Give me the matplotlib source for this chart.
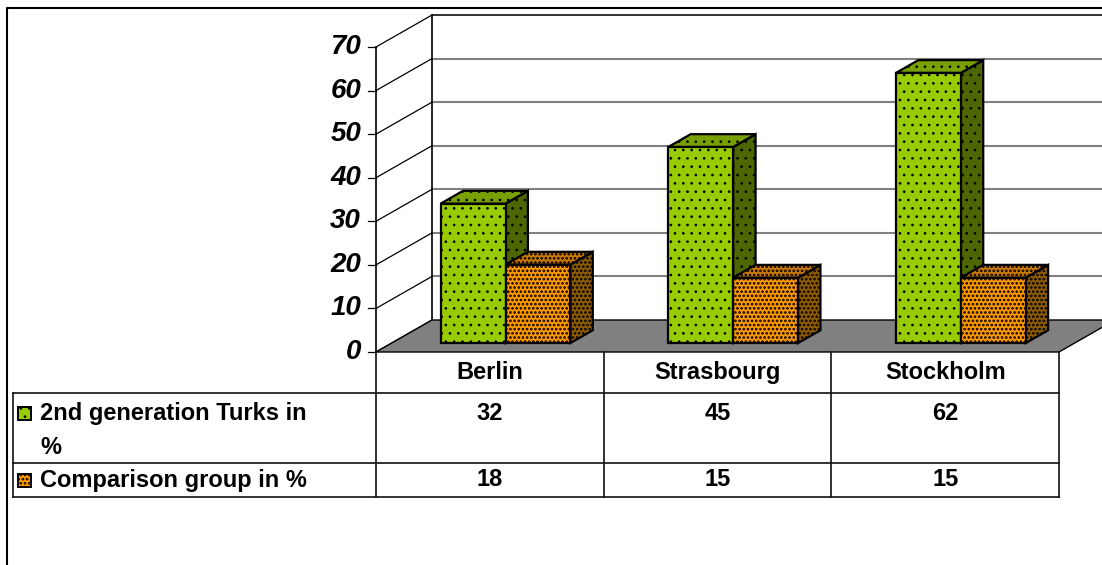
import matplotlib
matplotlib.use("Agg")
import matplotlib.pyplot as plt
from matplotlib.patches import Polygon, Rectangle
from matplotlib.lines import Line2D
from matplotlib.transforms import Affine2D

# ---- data -------------------------------------------------------------
cities = ["Berlin", "Strasbourg", "Stockholm"]
series_labels = ["2nd generation Turks in\n%", "Comparison group in %"]
turks = [32, 45, 62]
comparison = [18, 15, 15]
y_ticks = [0, 10, 20, 30, 40, 50, 60, 70]

# ---- style ------------------------------------------------------------
# (front, top, side) shades for each series
SHADES = [("#99CC00", "#78A000", "#4C6600"),
          ("#FF9900", "#CC7A00", "#8F5C00")]
HATCHES = ["..", "...."]
HATCH_LW = [0.7, 1.3]
FONT = "Liberation Sans"

W, H, DPI = 1102, 565, 100
fig = plt.figure(figsize=(W / DPI, H / DPI), dpi=DPI)

# layout of the plot box in pixels, measured from the top-left corner
X0, X1 = 376, 1059        # front edge of the floor
Y0, YTOP = 352, 47        # value 0 and top value on the front plane
DX, DY = 56, 32           # oblique offset of the back wall
YMAX = y_ticks[-1]

px_cat = (X1 - X0) / len(cities)
px_val = (Y0 - YTOP) / YMAX

ax = fig.add_axes([0, 0, 1, 1])
ax.set_xlim(-X0 / px_cat, (W - X0) / px_cat)
ax.set_ylim(-(H - Y0) / px_val, Y0 / px_val)
ax.axis("off")

depth_x = DX / px_cat
depth_y = DY / px_val


def P(x, v, d):
    """Oblique projection: category x, value v, depth d (0 front .. 1 back)."""
    return (x + d * depth_x, v + d * depth_y)


def hatched(patch, s):
    patch.set_hatch(HATCHES[s])
    try:
        patch.set_hatch_linewidth(HATCH_LW[s])
    except AttributeError:
        pass
    return patch


# pixel transform (origin top-left) for the data table
pix = Affine2D().scale(1 / W, -1 / H).translate(0, 1) + fig.transFigure

ncat = len(cities)

# ---- walls --------------------------------------------------------------
ax.add_patch(Polygon([P(0, 0, 1), P(ncat, 0, 1), P(ncat, YMAX, 1), P(0, YMAX, 1)],
                     closed=True, facecolor="white", edgecolor="none", zorder=1))
for t in y_ticks[1:-1]:
    a, b = P(0, t, 1), P(ncat, t, 1)
    ax.add_line(Line2D([a[0], b[0]], [a[1], b[1]], color="#808080", lw=1.5, zorder=2))
a, b = P(0, YMAX, 1), P(ncat, YMAX, 1)
ax.add_line(Line2D([a[0], b[0]], [a[1], b[1]], color="#222222", lw=1.3, zorder=2))
for t in y_ticks:
    a, b = P(0, t, 0), P(0, t, 1)
    ax.add_line(Line2D([a[0], b[0]], [a[1], b[1]], color="black", lw=0.9, zorder=2))
for d in (0, 1):
    a, b = P(0, 0, d), P(0, YMAX, d)
    ax.add_line(Line2D([a[0], b[0]], [a[1], b[1]], color="black", lw=1.2, zorder=2))

# floor
ax.add_patch(Polygon([P(0, 0, 0), P(ncat, 0, 0), P(ncat, 0, 1), P(0, 0, 1)],
                     closed=True, facecolor="#808080", edgecolor="black", lw=1.0, zorder=3))

# value axis ticks and labels
tick_len = 8 / px_cat
for t in y_ticks:
    ax.add_line(Line2D([-tick_len, 0], [t, t], color="black", lw=0.9, zorder=3))
    ax.text(-15 / px_cat, t, str(t), ha="right", va="center", fontsize=20,
            fontweight="bold", fontstyle="italic", family=FONT, zorder=3)

# ---- 3D columns ---------------------------------------------------------
BAR_W = 0.285
D0, D1 = 0.28, 0.68
for i in range(ncat):
    for s, vals in enumerate((turks, comparison)):
        xl = i + 0.5 - BAR_W + s * BAR_W
        xr = xl + BAR_W
        v = vals[i]
        front, top, side = SHADES[s]
        faces = [
            ([P(xr, 0, D0), P(xr, 0, D1), P(xr, v, D1), P(xr, v, D0)], side),
            ([P(xl, v, D0), P(xr, v, D0), P(xr, v, D1), P(xl, v, D1)], top),
            ([P(xl, 0, D0), P(xr, 0, D0), P(xr, v, D0), P(xl, v, D0)], front),
        ]
        for pts, col in faces:
            ax.add_patch(hatched(Polygon(pts, closed=True, facecolor=col,
                                         edgecolor="black", lw=1.6,
                                         joinstyle="miter", zorder=4), s))

# ---- data table ---------------------------------------------------------
ROW_TOP, ROW1, ROW2, ROW_BOT = Y0, 393, 463, 497
LEG_LEFT = 13
tl = dict(color="#111111", lw=1.2, transform=pix, zorder=5)
col_x = [X0 + k * px_cat for k in range(ncat + 1)]
for x in col_x:
    ax.add_line(Line2D([x, x], [ROW_TOP, ROW_BOT], **tl))
ax.add_line(Line2D([LEG_LEFT, LEG_LEFT], [ROW1, ROW_BOT], **tl))
for y in (ROW1, ROW2, ROW_BOT):
    ax.add_line(Line2D([LEG_LEFT, X1], [y, y], **tl))

txt = dict(fontsize=17, fontweight="bold", family=FONT, transform=pix, zorder=6)
for k, city in enumerate(cities):
    cx = X0 + (k + 0.5) * px_cat
    ax.text(cx, (ROW_TOP + ROW1) / 2, city, ha="center", va="center", **txt)
    ax.text(cx, 413, str(turks[k]), ha="center", va="center", **txt)
    ax.text(cx, (ROW2 + ROW_BOT) / 2, str(comparison[k]), ha="center", va="center", **txt)

ax.text(40, 402, series_labels[0], ha="left", va="top", linespacing=1.6, **txt)
ax.text(40, (ROW2 + ROW_BOT) / 2, series_labels[1], ha="left", va="center", **txt)

# legend keys
for s, yc in enumerate((413, (ROW2 + ROW_BOT) / 2)):
    ax.add_patch(hatched(Rectangle((18, yc - 6.5), 13, 13, facecolor=SHADES[s][0],
                                   edgecolor="black", lw=1.4, transform=pix,
                                   zorder=6), s))

# chart border
ax.add_line(Line2D([7, 7, W], [H, 8, 8], color="black", lw=1.5, transform=pix, zorder=6))

fig.savefig("out.png", dpi=DPI)
